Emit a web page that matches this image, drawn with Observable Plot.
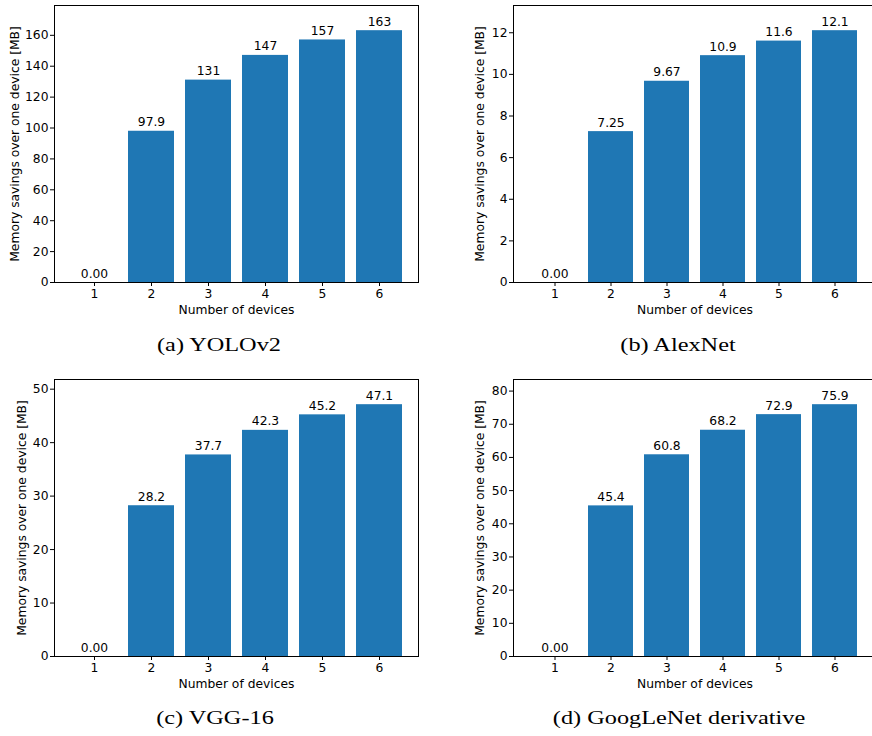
<!DOCTYPE html>
<html><head><meta charset="utf-8">
<script src="https://cdn.jsdelivr.net/npm/d3@7"></script>
<script src="https://cdn.jsdelivr.net/npm/@observablehq/plot@0.6"></script>
<style>
html,body{margin:0;padding:0;background:#fff;overflow:hidden}
#wrap{position:relative;width:872px;height:736px;overflow:hidden;background:#fff}
.panel{position:absolute}
.cap{position:absolute;font-family:"Liberation Serif",serif;font-size:18px;color:#000;transform:translate(-50%,-50%) scaleX(1.35);white-space:nowrap;line-height:1}
</style></head><body><div id="wrap"></div>
<script>
const devices = ["1", "2", "3", "4", "5", "6"];
const yolov2 = [0, 97.9, 131, 147, 157, 163];
const alexnet = [0, 7.25, 9.67, 10.9, 11.6, 12.1];
const vgg16 = [0, 28.2, 37.7, 42.3, 45.2, 47.1];
const googlenet = [0, 45.4, 60.8, 68.2, 72.9, 75.9];
const ticksYolo = [0, 20, 40, 60, 80, 100, 120, 140, 160];
const ticksAlex = [0, 2, 4, 6, 8, 10, 12];
const ticksVgg = [0, 10, 20, 30, 40, 50];
const ticksGoog = [0, 10, 20, 30, 40, 50, 60, 70, 80];
const captions = ["(a) YOLOv2", "(b) AlexNet", "(c) VGG-16", "(d) GoogLeNet derivative"];
const xLabel = "Number of devices";
const yLabel = "Memory savings over one device [MB]";

const wrap = document.getElementById("wrap");
const fmt = d3.format(".3g");
const FS = 12.3;

function panel(values, ticks, cfg) {
  const data = devices.map((d, i) => ({dev: d, v: values[i]}));
  const ymax = d3.max(values) * 1.1;
  const chart = Plot.plot({
    width: cfg.width, height: cfg.height,
    marginLeft: cfg.ml, marginRight: cfg.mr, marginTop: cfg.mt, marginBottom: cfg.mb,
    style: {fontFamily: "DejaVu Sans", fontSize: FS + "px", color: "#000", background: "transparent", overflow: "visible"},
    x: {domain: devices, paddingInner: 0.2, paddingOuter: 0.29, label: null},
    y: {domain: [0, ymax], label: null},
    marks: [
      Plot.barY(data, {x: "dev", y: "v", fill: "#1f77b4"}),
      Plot.text(data, {x: "dev", y: "v", text: d => fmt(d.v), lineAnchor: "bottom", dy: -5, fill: "#000", fontSize: FS}),
      Plot.axisX({tickSize: 4, tickPadding: 3, label: null, stroke: "#000"}),
      Plot.axisY({ticks: ticks, tickSize: 4, tickPadding: 2, label: null, stroke: "#000"}),
      Plot.frame({stroke: "#000", strokeWidth: 1}),
      Plot.text([yLabel], {frameAnchor: "left", text: d => d, rotate: -90, dx: cfg.ydx, lineAnchor: "middle", textAnchor: "middle", fill: "#000", fontSize: FS}),
      Plot.text([xLabel], {frameAnchor: "bottom", text: d => d, dy: 28, lineAnchor: "middle", textAnchor: "middle", fill: "#000", fontSize: FS})
    ]
  });
  chart.classList.add("panel");
  chart.style.left = cfg.left + "px";
  chart.style.top = cfg.top + "px";
  wrap.appendChild(chart);
}

panel(yolov2, ticksYolo, {left: 0, top: 0, width: 436, height: 330, ml: 54, mr: 18, mt: 5, mb: 48, ydx: -39});
panel(alexnet, ticksAlex, {left: 436, top: 0, width: 450, height: 330, ml: 77, mr: 10, mt: 5, mb: 48, ydx: -33});
panel(vgg16, ticksVgg, {left: 0, top: 370, width: 436, height: 330, ml: 54, mr: 18, mt: 9, mb: 44, ydx: -32.5});
panel(googlenet, ticksGoog, {left: 436, top: 370, width: 450, height: 330, ml: 77, mr: 10, mt: 9, mb: 44, ydx: -33});

const capPos = [[219, 345], [678, 345], [215, 718], [679, 718]];
captions.forEach((c, i) => {
  const el = document.createElement("div");
  el.className = "cap";
  el.textContent = c;
  el.style.left = capPos[i][0] + "px";
  el.style.top = capPos[i][1] + "px";
  wrap.appendChild(el);
});
</script>
</body></html>
